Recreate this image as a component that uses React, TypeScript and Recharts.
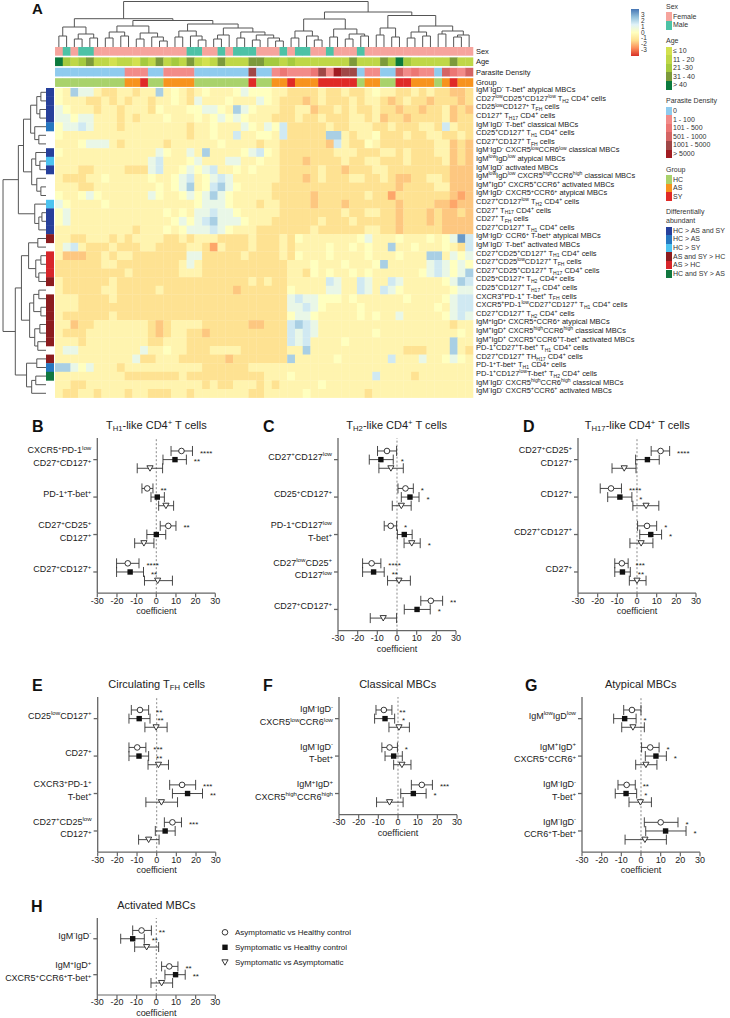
import React from 'react';
import { ScatterChart, Scatter, XAxis, YAxis, ErrorBar, ReferenceLine } from 'recharts';

const FONT = '"Liberation Sans", Arial, Helvetica, sans-serif';

// ---------- Panel A data ----------
// annotation tracks, one code per sample column (54 samples)
const sexTrack = 'F M F MM FFFFFFFFFFFF MM FF M F MMM FFF M F MM FF M FFF M FFFFFFFFFFFFFF';
const ageTrack = '532342212 213242324 212422244 332322222 224222435 322222422';
const densityTrack = '000000000 111 00 1111 0000000 4 00 121112 4 1 5 44 0 11 00 3 1211 0 3 2 1 3';
const groupTrack = 'HHHHHHHHH AA S HH AAAA HHHHHHH S HH AA S AAA SSSSS H AA HH SS AAA H A S AA';

// row annotation: differentially abundant (one code per row, '.' = none)
const rowAbundance = 'AAAAB..ACA...CAAAD.EEED.DDDDDD.DBF..';

// z-scored cell values, coded: 3 2 1 l 0 a b c d (blue -> orange)
const heatRows = [
  '0a2llabba abaa2a0ab a0aaa0l00 0aabbbbab babba0aab bababbccb',
  '0aaabbaba baabaa0ab laaa0aaal 0abbbcbab bbabaabcb abbcbbbcb',
  'l0aaabaab aaab0aaa0 0ll0a2l0a aabbaacbb ababbabbc bbcbbacbc',
  'll0llaaab abaaa0aaa 0a0l0l0aa abbbabbab bbaabacbb cbbbbacbb',
  '0ll1laaab aaaaaaaab aa0aaal0a l01bbbbba bbaaabbab bbaab1abb',
  '0aaaaaaaa aaaaaaaab aa0aa1aa0 0a1bbbbb2 2abaa0bbb abbaabbab',
  'aaa0lllab aaaaabaaa aaa0aaaab aabbbbbbc 1abb0abbb bbbbaacbc',
  '0aaaaaaaa aaaal0aal a2aaaa0l1 0abbbbbbb aaabbbaab abbbaacbc',
  'aaaaaaaaa aaal1aaa0 laaallaa0 aabbbcbbb babbaabbb abbbbacbc',
  'aaabbaaaa bbbl1aa0l 0l1aa0a0a aabbbbbab bcbbbaabb bbbbbbccc',
  'abbbaa0aa aaa0aa0l1 a0l1laaaa aabbbcbab bbaabbabc cbbaabccc',
  'aaabbaaaa aaaa0a0l2 a012l0aaa abbbbbbbb bbbbbbbbc bbbbaaccc',
  '0aa0l0aaa aaal0aa0l 0l2l0aaaa abbbbbcbb bbbbabbdb bbbbbbcdc',
  'l0aaaa0aa aaaaaaaaa 0lll0aaab aabbbbcbb bcbbbbbbc bbbbccdcc',
  '0laaaaaaa aaaaa0a0a ll1ll0aaa aabbbbbbb babbaabbc bbbcbccbc',
  '0laaaaaaa aaaaaa0l0 l12lll0aa abbbbbbab bbabbbbbc bbbcbcccc',
  'aaaaaaaaa abaaa0a0l ll1l0aaab bbbbbbabb bbbbaabbc bbbbbcccc',
  'aabbaaaba baaaabbab aaabbbbab bbab0aaaa aaa0laaa0 aaa0a0l31',
  'al1abbbab bbaabbbba abdabbbab bbabaaaa0 aa0a0aa2a a0aaa0ab1',
  'acccbbaba abbbbbbbl lbbbbbabb bbab0aaa0 aaaa0aaa0 aaa22al0l',
  'bbbbbbaab bbbbbbbal abbbbbbbb bbbaaa0aa a0aaa02aa aaal1l0l0',
  'bbbbbbbbb abbbbbbaa abbbbbbbb bbbaab0a0 aa0a0aaaa aa0l1l0l2',
  'abbbbbbab bbbbbbbbb bbbbbbbab abbaaaaa1 laa1laa1l aaaaa0l21',
  'abbbbbaab bbbbabbbb bbbbbcbbb bbb0aaaal laa1la1l0 aaaaaa0ll',
  'aaabbbbab bbbbbbbbb bbbbbbbbb bbbl1ll00 0a0aaaaaa 0aaaa0l11',
  'aaabbbbbb bbbbbbbbb bbbbbbbbb bbbll1l0a aaa0aaaaa aaaa0al11',
  'abbbbbbab bbbbbbbbb bbbbbbbbb bbb0ll0aa aaa0a0aal aaaaa0l1l',
  'aacbbaaaa aaabcbaaa abbbbbbcc bbb121laa aaaaaaaaa aaaaaabaa',
  'abbbaaaaa aaabcbaab bcbbbbbbb bbb1l1laa aaaaa0aaa aaaaaaa0a',
  'aaabaaaaa aaabbaaab bbbbbbbbb bbb1l1aaa a0aaaaaaa aaaaaa2aa',
  'allaaaaaa aalaa0aab bbaaaabbb bbbaa2aaa aaaaaaaaa bbbaaa2ab',
  'aaaaaaaaa albbaaabb bbbbcbbbb bbb2aaaaa 0aaaaaa1a aalaa0l0a',
  '22l0laaab aaaaaaaaa abbbbbbaa aaaaaaaaa aaaaaaaaa aaaaaaaaa',
  'aaaaaaaaa bbbbbbbab bbbbbbbbb aaa0aaaaa aaaaa1aaa abaaaaaaa',
  'aabbaaaaa aaaaaaaaa ababbaaab abaaaaa0a aaaaaaaaa aaaaaaaaa',
  'abbaabaaa baabbbaab aaaaaaabb aaaaa0aaa aaaabaaaa aaaaaaaaa',
];
const cellLevels: Record<string, number> = { '3': 2.5, '2': 1.7, '1': 1.2, l: 0.7, '0': 0, a: -0.35, b: -0.95, c: -1.3, d: -1.7 };

const heatRowLabels = [
  'IgM^{-}IgD^{-} T-bet^{+} atypical MBCs',
  'CD27^{low}CD25^{+}CD127^{low} T_{H2} CD4^{+} cells',
  'CD25^{low}CD127^{+} T_{FH} cells',
  'CD127^{+} T_{H17} CD4^{+} cells',
  'IgM^{-}IgD^{-} T-bet^{+} classical MBCs',
  'CD25^{+}CD127^{+} T_{H1} CD4^{+} cells',
  'CD27^{+}CD127^{+} T_{FH} cells',
  'IgM^{-}IgD^{-} CXCR5^{low}CCR6^{low} classical MBCs',
  'IgM^{low}IgD^{low} atypical MBCs',
  'IgM^{-}IgD^{-} activated MBCs',
  'IgM^{low}IgD^{low} CXCR5^{high}CCR6^{high} classical MBCs',
  'IgM^{+}IgD^{+} CXCR5^{+}CCR6^{+} activated MBCs',
  'IgM^{-}IgD^{-} CXCR5^{+}CCR6^{+} atypical MBCs',
  'CD27^{+}CD127^{low} T_{H2} CD4^{+} cells',
  'CD27^{+} T_{H17} CD4^{+} cells',
  'CD27^{+} T_{FH} cells',
  'CD27^{+}CD127^{+} T_{H1} CD4^{+} cells',
  'IgM^{-}IgD^{-} CCR6^{+} T-bet^{+} atypical MBCs',
  'IgM^{-}IgD^{-} T-bet^{+} activated MBCs',
  'CD27^{+}CD25^{+}CD127^{+} T_{H1} CD4^{+} cells',
  'CD27^{+}CD25^{low}CD127^{+} T_{FH} cells',
  'CD27^{+}CD25^{+}CD127^{+} T_{H17} CD4^{+} cells',
  'CD25^{+}CD127^{+} T_{H2} CD4^{+} cells',
  'CD25^{+}CD127^{+} T_{H17} CD4^{+} cells',
  'CXCR3^{+}PD-1^{+} T-bet^{+} T_{FH} cells',
  'CXCR5^{+}PD-1^{low}CD27^{+}CD127^{+} T_{H1} CD4^{+} cells',
  'CD27^{+}CD127^{+} T_{H2} CD4^{+} cells',
  'IgM^{+}IgD^{+} CXCR5^{+}CCR6^{+} atypical MBCs',
  'IgM^{+}IgD^{+} CXCR5^{high}CCR6^{high} classical MBCs',
  'IgM^{+}IgD^{+} CXCR5^{+}CCR6^{+}T-bet^{+} activated MBCs',
  'PD-1^{+}CD27^{+}T-bet^{+} T_{H1} CD4^{+} cells',
  'CD27^{+}CD127^{+} TH_{H17} CD4^{+} cells',
  'PD-1^{+}T-bet^{+} T_{H1} CD4^{+} cells',
  'PD-1^{+}CD127^{low}T-bet^{+} T_{H2} CD4^{+} cells',
  'IgM^{-}IgD^{-} CXCR5^{high}CCR6^{high} classical MBCs',
  'IgM^{-}IgD^{-} CXCR5^{+}CCR6^{+} activated MBCs',
];

type Tree = number | [Tree, Tree, number];

// sample clustering (leaf = column index, last number = merge height)
const colTree: Tree = [
  [
    [[0, 1, 11], [[2, 3, 8], [4, 5, 9], 13], 20],
    [
      [[[6, 7, 9], [8, 9, 11], 15], [[10, 11, 8], [12, [13, 14, 6], 10], 14], 21],
      [
        [[15, 16, 10], [17, [18, 19, 7], 11], 16],
        [[[20, 21, 8], 22, 12], [[23, 24, 9], [[25, 26, 7], [27, [28, 29, 6], 9], 12], 15], 19],
        23,
      ],
      26.5,
    ],
    28.3,
  ],
  [
    [[[30, 31, 9], [32, [33, 34, 7], 11], 16], [[35, 36, 10], [[37, 38, 8], [39, 40, 11], 13], 18], 28],
    [[[41, 42, 12], [43, 44, 10], 19], [[[45, 46, 9], [47, 48, 11], 15], [[49, 50, 13], [[51, 52, 10], 53, 12], 16], 21], 31.5],
    35,
  ],
  45.5,
];

// cell-population clustering (leaf = row index)
const rowTree: Tree = [
  [
    [
      [[[0, 1, 5], [2, 3, 6], 9], [4, [5, 6, 7], 11], 15],
      [[7, [8, 9, 6], 10], [10, [11, 12, 5], 9], 14],
      22,
    ],
    [13, [[14, 15, 4], 16, 7], 11],
    27,
  ],
  [
    [
      [[17, 18, 8], [[19, 20, 5], [21, 22, 7], 10], 17],
      [[[23, 24, 7], [25, 26, 5], 12], [[27, 28, 6], [29, 30, 8], 11], 16],
      24,
    ],
    [[31, 32, 9], [[33, 34, 10], 35, 14], 19],
    30,
  ],
  42,
];

// legend entries (also colour the tracks)
const sexLegend: [string, string, string][] = [['F', 'Female', '#f6a49d'], ['M', 'Male', '#4dc2a6']];
const ageLegend: [string, string, string][] = [
  ['1', '≤ 10', '#d3e14f'], ['2', '11 - 20', '#bfd747'], ['3', '21 -30', '#a5ca3e'], ['4', '31 - 40', '#7c9a3b'], ['5', '> 40', '#0b7a3d'],
];
const densityLegend: [string, string, string][] = [
  ['0', '0', '#8fcbee'], ['1', '1 - 100', '#f28b89'], ['2', '101 - 500', '#ec7674'], ['3', '501 - 1000', '#d46464'],
  ['4', '1001 - 5000', '#a04747'], ['5', '> 5000', '#a11c22'],
];
const groupLegend: [string, string, string][] = [['H', 'HC', '#a9d26b'], ['A', 'AS', '#f7931e'], ['S', 'SY', '#e02a27']];
const abundanceLegend: [string, string, string][] = [
  ['A', 'HC > AS and SY', '#27409b'], ['B', 'HC > AS', '#2677c0'], ['C', 'HC > SY', '#4cc3f0'],
  ['D', 'AS and SY > HC', '#8c1c1f'], ['E', 'AS > HC', '#d7262b'], ['F', 'HC and SY > AS', '#11773f'],
];
const scaleTicks = ['3', '2', '1', '0', '-1', '-2', '-3'];
const scaleStops = ['#4575B4', '#91BFDB', '#E0F3F8', '#FFFFBF', '#FEE090', '#FC8D59', '#D73027'];

// ---------- Panels B-H data: [estimate, CI low, CI high, stars] for AS vs HC, SY vs HC, SY vs AS ----------
type Est = [number, number, number, string];
const th1Labels = [['CXCR5^{+}PD-1^{low}', 'CD27^{+}CD127^{+}'], ['PD-1^{+}T-bet^{+}'], ['CD27^{+}CD25^{+}', 'CD127^{+}'], ['CD27^{+}CD127^{+}']];
const th1Rows: Est[][] = [
  [[12.8, 7.5, 18.4, '****'], [9.5, 3.4, 15.3, '**'], [-3.2, -9.7, 3.2, '']],
  [[-4.6, -7.3, -1.7, '**'], [0.5, -2.7, 4.1, ''], [4.9, 1.2, 8.8, '']],
  [[6.1, 2, 10, '**'], [0, -4.8, 4.8, ''], [-6.3, -11, -1.2, '']],
  [[-14.5, -20.2, -8.8, '****'], [-13.3, -20.2, -6.5, '**'], [0.7, -6, 8.2, '']],
];
const th2Labels = [['CD27^{+}CD127^{low}'], ['CD25^{+}CD127^{+}'], ['PD-1^{+}CD127^{low}', 'T-bet^{+}'], ['CD27^{low}CD25^{+}', 'CD127^{low}'], ['CD27^{+}CD127^{+}']];
const th2Rows: Est[][] = [
  [[-5.1, -9.9, -0.2, ''], [-8.2, -14.1, -1.9, '*'], [-3.1, -9.2, 3.2, '']],
  [[4.3, 0.5, 8.3, '*'], [6.6, 2.2, 11.2, '*'], [2.2, -2.4, 7.2, '']],
  [[-3.2, -6.5, -0.2, '*'], [3.7, 0.2, 7.7, ''], [7.5, 3.6, 11.8, '*']],
  [[-12.9, -17.5, -8.2, '****'], [-11.9, -17.5, -6.5, '**'], [1, -4.8, 6.8, '']],
  [[17.2, 12.1, 23.2, '****'], [10.2, 3.7, 16.9, '*'], [-7, -13.6, -0.2, '']],
];
const th17Labels = [['CD27^{+}CD25^{+}', 'CD127^{+}'], ['CD127^{+}'], ['CD27^{+}CD127^{+}'], ['CD27^{+}']];
const th17Rows: Est[][] = [
  [[12, 7.2, 16.6, '****'], [5.3, -0.7, 11.3, ''], [-6.5, -12.7, -0.5, '']],
  [[-13.2, -18.7, -7.9, '****'], [-8.7, -14.9, -2.6, '*'], [4.6, -2.1, 11.1, '']],
  [[5.1, 0.3, 10, '*'], [7, 1.4, 12.5, '*'], [2.1, -3.6, 8.1, '']],
  [[-7.7, -11.3, -4.5, '***'], [-7.4, -11.3, -3.4, '**'], [0, -3.9, 4.6, '']],
];
const tfhLabels = [['CD25^{low}CD127^{+}'], ['CD27^{+}'], ['CXCR3^{+}PD-1^{+}', 'T-bet^{+}'], ['CD27^{+}CD25^{low}', 'CD127^{+}']];
const tfhRows: Est[][] = [
  [[-8.5, -12.9, -4.1, '**'], [-8.9, -14.1, -3.4, '**'], [-0.3, -6, 5.3, '']],
  [[-9.9, -14.1, -5.5, '***'], [-9, -14.1, -4.1, '**'], [0.9, -4.4, 6, '']],
  [[12.9, 6.6, 19.8, '***'], [15.7, 8, 23.3, '**'], [2.4, -5.5, 10.6, '']],
  [[8, 3.9, 12.6, '***'], [4.3, -0.7, 9.4, ''], [-4.1, -9.2, 1.2, '']],
];
const classicalLabels = [['IgM^{-}IgD^{-}', 'CXCR5^{low}CCR6^{low}'], ['IgM^{-}IgD^{-}', 'T-bet^{+}'], ['IgM^{+}IgD^{+}', 'CXCR5^{high}CCR6^{high}']];
const classicalRows: Est[][] = [
  [[-7.2, -11.2, -3.1, '**'], [-6.6, -11.9, -1.7, '*'], [0.5, -4.6, 5.8, '']],
  [[-4.3, -8.2, -0.3, '*'], [-2.2, -6.6, 2.2, ''], [2, -2.2, 6.6, '']],
  [[12.1, 6.8, 17.5, '***'], [7.8, 1.4, 14.3, '*'], [-4.3, -10.9, 2.6, '']],
];
const atypicalLabels = [['IgM^{low}IgD^{low}'], ['IgM^{+}IgD^{+}', 'CXCR5^{+}CCR6^{+}'], ['IgM^{-}IgD^{-}', 'T-bet^{+}'], ['IgM^{-}IgD^{-}', 'CCR6^{+}T-bet^{+}']];
const atypicalRows: Est[][] = [
  [[-4.6, -8.8, 0, ''], [-8.3, -13.9, -2.5, '*'], [-4.1, -9.8, 1.7, '']],
  [[4.7, 0.3, 9.2, '*'], [7.6, 2.2, 12.9, '*'], [2.5, -2.7, 8.1, '']],
  [[-7.3, -11.7, -2.9, '**'], [-7.6, -13.1, -2.2, '*'], [-0.3, -6.1, 5.3, '']],
  [[10, 1.7, 18.8, '*'], [12.5, 2.4, 22.9, '*'], [2, -8.1, 12.9, '']],
];
const activatedLabels = [['IgM^{-}IgD^{-}'], ['IgM^{+}IgD^{+}', 'CXCR5^{+}CCR6^{+}T-bet^{+}']];
const activatedRows: Est[][] = [
  [[-7.5, -12, -2.5, '**'], [-12, -18.1, -6.1, '**'], [-4.9, -11, 1.2, '']],
  [[6.6, 2.7, 11, '**'], [9.8, 4.4, 14.7, '**'], [2.7, -2.7, 8.3, '']],
];
const comparisons = ['Asymptomatic vs Healthy control', 'Symptomatic vs Healthy control', 'Symptomatic vs Asymptomatic'];
const xTicks = [-30, -20, -10, 0, 10, 20, 30];

// ---------- helpers ----------
const clean = (s: string) => s.replace(/\s/g, '');

type Seg = { t: string; k: number };
function parseRich(s: string): Seg[] {
  const out: Seg[] = [];
  const re = /([_^])\{([^}]*)\}/g;
  let last = 0;
  let m: RegExpExecArray | null;
  while ((m = re.exec(s))) {
    if (m.index > last) out.push({ t: s.slice(last, m.index), k: 0 });
    out.push({ t: m[2], k: m[1] === '^' ? 1 : -1 });
    last = re.lastIndex;
  }
  if (last < s.length) out.push({ t: s.slice(last), k: 0 });
  return out;
}
function svgRich(s: string, fs: number) {
  let cur = 0;
  return parseRich(s).map((g, i) => {
    const target = g.k === 1 ? -fs * 0.38 : g.k === -1 ? fs * 0.22 : 0;
    const dy = target - cur;
    cur = target;
    return (
      <tspan key={i} dy={dy} fontSize={g.k ? fs * 0.68 : fs}>
        {g.t}
      </tspan>
    );
  });
}
function htmlRich(s: string) {
  return parseRich(s).map((g, i) =>
    g.k === 0 ? (
      <span key={i}>{g.t}</span>
    ) : (
      <span key={i} style={{ fontSize: '0.7em', position: 'relative', top: g.k === 1 ? '-0.55em' : '0.3em' }}>
        {g.t}
      </span>
    )
  );
}
function hexMix(a: string, b: string, f: number) {
  const pa = [1, 3, 5].map((i) => parseInt(a.slice(i, i + 2), 16));
  const pb = [1, 3, 5].map((i) => parseInt(b.slice(i, i + 2), 16));
  return 'rgb(' + pa.map((v, i) => Math.round(v + (pb[i] - v) * f)).join(',') + ')';
}
function heatColor(v: number) {
  const t = Math.max(0, Math.min(6, 3 - v));
  const i = Math.min(5, Math.floor(t));
  return hexMix(scaleStops[i], scaleStops[i + 1], t - i);
}
function dendroSegments(tree: Tree, horizontal: boolean) {
  const segs: { x: number; y: number }[][] = [];
  const walk = (t: Tree): { p: number; h: number } => {
    if (typeof t === 'number') return { p: t + 0.5, h: 0 };
    const a = walk(t[0]);
    const b = walk(t[1]);
    const h = t[2];
    const pts: [number, number][] = [[a.p, a.h], [a.p, h], [b.p, h], [b.p, b.h]];
    segs.push(pts.map(([p, hh]) => (horizontal ? { x: p, y: hh } : { x: hh, y: p })));
    return { p: (a.p + b.p) / 2, h };
  };
  walk(tree);
  return segs;
}
const colorOf = (legend: [string, string, string][]) => Object.fromEntries(legend.map(([c, , col]) => [c, col]));

// ---------- layout ----------
const NCOL = 54;
const NROW = 36;
const HM_LEFT = 55;
const HM_TOP = 88;
const HM_W = 418;
const ROW_H = 8.6;
const HM_H = NROW * ROW_H;
const CELL_W = HM_W / NCOL;
const PAD = 5;
const noDot = () => <g />;

function HeatmapPanel() {
  const tracks = [
    { name: 'Sex', codes: clean(sexTrack), col: colorOf(sexLegend) },
    { name: 'Age', codes: clean(ageTrack), col: colorOf(ageLegend) },
    { name: 'Parasite Density', codes: clean(densityTrack), col: colorOf(densityLegend) },
    { name: 'Group', codes: clean(groupTrack), col: colorOf(groupLegend) },
  ];
  const trackCells = tracks.flatMap((tr, r) =>
    tr.codes.split('').map((c, i) => ({ x: i + 0.5, y: r + 0.5, fill: tr.col[c] }))
  );
  const cells = heatRows.flatMap((row, r) =>
    clean(row).split('').map((c, i) => ({ x: i + 0.5, y: r + 0.5, fill: heatColor(cellLevels[c]) }))
  );
  const abCol = colorOf(abundanceLegend);
  const abCells = rowAbundance
    .split('')
    .map((c, r) => ({ x: 0.5, y: r + 0.5, fill: abCol[c] }))
    .filter((d) => d.fill);
  const colSegs = dendroSegments(colTree, true);
  const rowSegs = dendroSegments(rowTree, false);

  const rect = (w: number, h: number) => (p: any) => (
    <rect x={p.cx - w / 2} y={p.cy - h / 2} width={w + 0.3} height={h + 0.3} fill={p.payload.fill} />
  );
  const rowTick = (p: any) => {
    const i = Math.round(p.payload.value - 0.5);
    return (
      <text x={p.x} y={p.y} dy="0.35em" fontSize={7.5} fill="#222" fontFamily={FONT} textAnchor="start">
        {svgRich(heatRowLabels[i] || '', 7.5)}
      </text>
    );
  };
  const trackTick = (p: any) => {
    const i = Math.round(p.payload.value - 0.5);
    return (
      <text x={p.x} y={p.y} dy="0.35em" fontSize={7.5} fill="#222" fontFamily={FONT} textAnchor="start">
        {tracks[i] ? tracks[i].name : ''}
      </text>
    );
  };
  const line = { stroke: '#555', strokeWidth: 1, fill: 'none' };

  return (
    <>
      <div style={{ position: 'absolute', left: 32, top: 0, fontSize: 15, fontWeight: 'bold' }}>A</div>
      {/* column dendrogram */}
      <div style={{ position: 'absolute', left: HM_LEFT, top: 0 }}>
        <ScatterChart width={HM_W} height={47} margin={{ top: 1, right: 0, bottom: 0, left: 0 }}>
          <XAxis type="number" dataKey="x" domain={[0, NCOL]} hide />
          <YAxis type="number" dataKey="y" domain={[0, 46]} hide />
          {colSegs.map((d, i) => (
            <Scatter key={i} data={d} line={line} lineType="joint" shape={noDot} isAnimationActive={false} />
          ))}
        </ScatterChart>
      </div>
      {/* annotation tracks */}
      <div style={{ position: 'absolute', left: HM_LEFT, top: 46 }}>
        <ScatterChart width={HM_W + 100} height={41.6} margin={{ top: 0, right: 0, bottom: 0, left: 0 }}>
          <XAxis type="number" dataKey="x" domain={[0, NCOL]} hide />
          <YAxis
            type="number"
            dataKey="y"
            domain={[0, 4]}
            reversed
            orientation="right"
            width={100}
            ticks={[0.5, 1.5, 2.5, 3.5]}
            interval={0}
            axisLine={false}
            tickLine={false}
            tickSize={0}
            tickMargin={3}
            tick={trackTick}
          />
          <Scatter data={trackCells} shape={rect(CELL_W, 8.4)} isAnimationActive={false} />
        </ScatterChart>
      </div>
      {/* row dendrogram */}
      <div style={{ position: 'absolute', left: 1, top: HM_TOP }}>
        <ScatterChart width={45} height={HM_H} margin={{ top: 0, right: 0, bottom: 0, left: 1 }}>
          <XAxis type="number" dataKey="x" domain={[0, 43]} reversed hide />
          <YAxis type="number" dataKey="y" domain={[0, NROW]} reversed hide />
          {rowSegs.map((d, i) => (
            <Scatter key={i} data={d} line={line} lineType="joint" shape={noDot} isAnimationActive={false} />
          ))}
        </ScatterChart>
      </div>
      {/* row annotation bar */}
      <div style={{ position: 'absolute', left: 46, top: HM_TOP }}>
        <ScatterChart width={8} height={HM_H} margin={{ top: 0, right: 0, bottom: 0, left: 0 }}>
          <XAxis type="number" dataKey="x" domain={[0, 1]} hide />
          <YAxis type="number" dataKey="y" domain={[0, NROW]} reversed hide />
          <Scatter data={abCells} shape={rect(8, ROW_H)} isAnimationActive={false} />
        </ScatterChart>
      </div>
      {/* heatmap */}
      <div style={{ position: 'absolute', left: HM_LEFT, top: HM_TOP - PAD }}>
        <ScatterChart width={HM_W + 180} height={HM_H + 2 * PAD} margin={{ top: PAD, right: 0, bottom: PAD, left: 0 }}>
          <XAxis type="number" dataKey="x" domain={[0, NCOL]} hide />
          <YAxis
            type="number"
            dataKey="y"
            domain={[0, NROW]}
            reversed
            orientation="right"
            width={180}
            ticks={heatRowLabels.map((_, i) => i + 0.5)}
            interval={0}
            axisLine={false}
            tickLine={false}
            tickSize={0}
            tickMargin={3}
            tick={rowTick}
          />
          <Scatter data={cells} shape={rect(CELL_W, ROW_H)} isAnimationActive={false} />
        </ScatterChart>
      </div>
      <Legends />
    </>
  );
}

function Legends() {
  const groups: { title: string[]; items: [string, string, string][] }[] = [
    { title: ['Sex'], items: sexLegend },
    { title: ['Age'], items: ageLegend },
    { title: ['Parasite Density'], items: densityLegend },
    { title: ['Group'], items: groupLegend },
    { title: ['Differentially', 'abundant'], items: abundanceLegend },
  ];
  const els: React.ReactNode[] = [];
  let y = 6.7;
  groups.forEach((g, gi) => {
    g.title.forEach((t, ti) =>
      els.push(
        <div key={`t${gi}${ti}`} style={{ position: 'absolute', left: 666, top: y + ti * 8.5 - 5, fontSize: 7, lineHeight: '10px', color: '#333' }}>
          {t}
        </div>
      )
    );
    let iy = y + (g.title.length - 1) * 8.5 + 10;
    g.items.forEach(([, label, col], ii) => {
      els.push(<div key={`s${gi}${ii}`} style={{ position: 'absolute', left: 666, top: iy - 4.3, width: 5.5, height: 8.6, background: col }} />);
      els.push(
        <div key={`l${gi}${ii}`} style={{ position: 'absolute', left: 673, top: iy - 5, fontSize: 7, lineHeight: '10px', color: '#333', whiteSpace: 'nowrap' }}>
          {label}
        </div>
      );
      iy += 8.6;
    });
    y = iy - 8.6 + 15.6;
  });
  return (
    <>
      <div
        style={{
          position: 'absolute',
          left: 631,
          top: 9,
          width: 8,
          height: 47,
          background: `linear-gradient(to bottom, ${scaleStops.join(',')})`,
        }}
      />
      {scaleTicks.map((t, i) => (
        <div key={t} style={{ position: 'absolute', left: 641, top: 15 + i * 5.85 - 4, fontSize: 6.5, lineHeight: '8px', color: '#333' }}>
          {t}
        </div>
      ))}
      {els}
    </>
  );
}

// ---------- forest panels ----------
const GROUP_STEP = 4.33;
const PLOT_W = 118;
const X_AXIS_H = 23;

const circleShape = (p: any) => <circle cx={p.cx} cy={p.cy} r={2.8} fill="#fff" stroke="#222" strokeWidth={0.9} />;
const squareShape = (p: any) => <rect x={p.cx - 2.7} y={p.cy - 2.7} width={5.4} height={5.4} fill="#111" />;
const triShape = (p: any) => (
  <path d={`M${p.cx - 3.1},${p.cy - 2.5}L${p.cx + 3.1},${p.cy - 2.5}L${p.cx},${p.cy + 2.9}Z`} fill="#fff" stroke="#222" strokeWidth={0.9} />
);
const markerShapes = [circleShape, squareShape, triShape];
const starShape = (p: any) => (
  <text x={p.cx} y={p.cy + 4.6} fontSize={8} fill="#222" fontFamily={FONT}>
    {p.payload.s}
  </text>
);

type PanelCfg = {
  letter: string;
  title: string;
  labels: string[][];
  groups: Est[][];
  axisX: number;
  axisTop: number;
  letterX: number;
  unit: number;
};

function ForestPanel({ cfg }: { cfg: PanelCfg }) {
  const { groups, labels } = cfg;
  const span = (groups.length - 1) * GROUP_STEP + 4.95;
  const plotH = span * cfg.unit;
  const yW = Math.min(112, cfg.axisX);
  const rightM = 34;
  const pos = (g: number, k: number) => 1.5 + g * GROUP_STEP + k;
  const series = [0, 1, 2].map((k) =>
    groups.map((grp, g) => {
      const [e, lo, hi] = grp[k];
      return { x: e, y: pos(g, k), err: [e - lo, hi - e] };
    })
  );
  const stars = groups.flatMap((grp, g) => grp.map((r, k) => ({ x: r[2] + 3.8, y: pos(g, k), s: r[3] }))).filter((d) => d.s);
  const centers = groups.map((_, g) => pos(g, 1));
  const tick = (p: any) => {
    const gi = centers.findIndex((c) => Math.abs(c - p.payload.value) < 1e-6);
    const lines = labels[gi] || [];
    return (
      <g>
        {lines.map((l, i) => (
          <text
            key={i}
            x={p.x}
            y={p.y + (lines.length === 1 ? 0 : i === 0 ? -6.3 : 6.3)}
            dy="0.35em"
            textAnchor="end"
            fontSize={9}
            fill="#222"
            fontFamily={FONT}
          >
            {svgRich(l, 9)}
          </text>
        ))}
      </g>
    );
  };
  return (
    <>
      <div style={{ position: 'absolute', left: cfg.letterX, top: cfg.axisTop - 20, fontSize: 16, fontWeight: 'bold', lineHeight: '18px' }}>
        {cfg.letter}
      </div>
      <div
        style={{
          position: 'absolute',
          left: cfg.axisX - 40,
          width: PLOT_W + 80,
          top: cfg.axisTop - 19,
          textAlign: 'center',
          fontSize: 11,
          lineHeight: '13px',
          color: '#222',
        }}
      >
        {htmlRich(cfg.title)}
      </div>
      <div style={{ position: 'absolute', left: cfg.axisX - yW, top: cfg.axisTop }}>
        <ScatterChart width={yW + PLOT_W + rightM} height={plotH + X_AXIS_H} margin={{ top: 0, right: rightM, bottom: 0, left: 0 }}>
          <XAxis
            type="number"
            dataKey="x"
            domain={[-30, 30]}
            allowDataOverflow
            ticks={xTicks}
            interval={0}
            tickSize={4}
            tickMargin={0}
            height={X_AXIS_H}
            stroke="#666"
            strokeWidth={1.2}
            tick={{ fontSize: 9, fill: '#222', fontFamily: FONT }}
            label={{ value: 'coefficient', position: 'insideBottom', offset: 2, fontSize: 9, fill: '#222', fontFamily: FONT }}
          />
          <YAxis
            type="number"
            dataKey="y"
            domain={[0, span]}
            allowDataOverflow
            reversed
            ticks={centers}
            interval={0}
            width={yW}
            tickSize={4}
            tickMargin={2}
            stroke="#666"
            strokeWidth={1.3}
            tick={tick}
          />
          <ReferenceLine x={0} stroke="#8a8a8a" strokeDasharray="2 2" />
          {series.map((data, k) => (
            <Scatter key={k} data={data} shape={markerShapes[k]} isAnimationActive={false}>
              <ErrorBar dataKey="err" direction="x" width={5} stroke="#333" strokeWidth={0.9} />
            </Scatter>
          ))}
          <Scatter data={stars} shape={starShape} isAnimationActive={false} />
        </ScatterChart>
      </div>
    </>
  );
}

const panels: PanelCfg[] = [
  { letter: 'B', title: 'T_{H1}-like CD4^{+} T cells', labels: th1Labels, groups: th1Rows, axisX: 97.3, axisTop: 438, letterX: 32, unit: 8.65 },
  { letter: 'C', title: 'T_{H2}-like CD4^{+} T cells', labels: th2Labels, groups: th2Rows, axisX: 337.7, axisTop: 438, letterX: 263, unit: 8.65 },
  { letter: 'D', title: 'T_{H17}-like CD4^{+} T cells', labels: th17Labels, groups: th17Rows, axisX: 578.3, axisTop: 438, letterX: 523, unit: 8.65 },
  { letter: 'E', title: 'Circulating T_{FH} cells', labels: tfhLabels, groups: tfhRows, axisX: 97.7, axisTop: 696.7, letterX: 32, unit: 8.65 },
  { letter: 'F', title: 'Classical MBCs', labels: classicalLabels, groups: classicalRows, axisX: 338.7, axisTop: 696.7, letterX: 263, unit: 8.65 },
  { letter: 'G', title: 'Atypical MBCs', labels: atypicalLabels, groups: atypicalRows, axisX: 581.7, axisTop: 696.7, letterX: 525, unit: 8.65 },
  { letter: 'H', title: 'Activated MBCs', labels: activatedLabels, groups: activatedRows, axisX: 97.3, axisTop: 918, letterX: 31, unit: 8.3 },
];

function ComparisonLegend() {
  return (
    <svg style={{ position: 'absolute', left: 218, top: 924 }} width={170} height={46}>
      {comparisons.map((c, i) => {
        const cy = 8.3 + i * 15;
        const p = { cx: 7, cy };
        return (
          <g key={c}>
            {markerShapes[i](p)}
            <text x={17} y={cy} dy="0.35em" fontSize={8} fill="#222" fontFamily={FONT}>
              {c}
            </text>
          </g>
        );
      })}
    </svg>
  );
}

export default function App() {
  return (
    <div
      style={{
        position: 'absolute',
        left: 0,
        top: 0,
        width: 730,
        height: 1018,
        overflow: 'hidden',
        background: '#fff',
        fontFamily: FONT,
        color: '#111',
      }}
    >
      <HeatmapPanel />
      {panels.map((p) => (
        <ForestPanel key={p.letter} cfg={p} />
      ))}
      <ComparisonLegend />
    </div>
  );
}
